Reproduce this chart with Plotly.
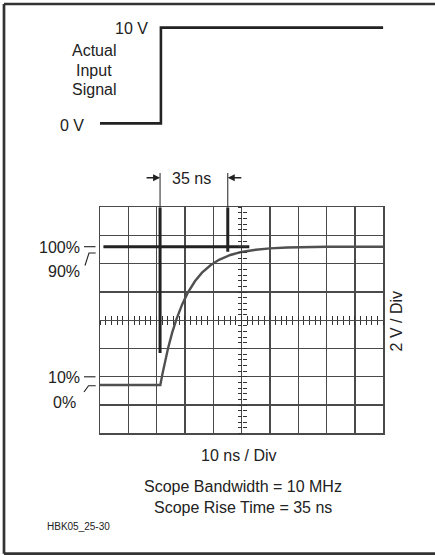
import plotly.graph_objects as go

W, H = 435, 555


def fx(p):
    return p / W


def fy(p):
    return 1 - p / H


# ---------------- data ----------------
# actual input step (ns, V)
input_time_ns = [0, 21.5, 21.5, 100]
input_volts = [0, 0, 10, 10]

# scope trace (ns, V)
scope_time_ns = [0, 21.3, 22, 23, 24, 25.5, 27, 29, 31, 33.5, 36, 39, 42, 46, 50, 55, 60, 66, 72, 80, 100]
scope_volts = [0, 0, 0.76, 1.76, 2.64, 3.8, 4.77, 5.83, 6.68, 7.5, 8.12, 8.66, 9.05, 9.4, 9.62, 9.78, 9.88, 9.94, 9.97, 10, 10]

# rise-time cursors (ns) and where their heavy part ends (V)
cursor_times_ns = [21.2, 45.1]
cursor_low_V = [2.31, 9.64]
# 100 % reference bar
ref_bar_ns = [1.2, 52.7]
ref_bar_V = [10, 10]

# scope screen
NS_PER_DIV = 10
X_DIVS = 10
V_PER_DIV = 2.0427
Y_MIN = -3.4924
Y_MAX = Y_MIN + 8 * V_PER_DIV

INK = "#222222"
GRID = "#4a4a4a"
FONT = "Liberation Sans, Arial, Helvetica, sans-serif"

fig = go.Figure()

# input step
fig.add_trace(go.Scatter(x=input_time_ns, y=input_volts, xaxis="x2", yaxis="y2",
                         mode="lines", line=dict(color=INK, width=2.6),
                         hoverinfo="skip", showlegend=False))

# scope curve
fig.add_trace(go.Scatter(x=scope_time_ns, y=scope_volts, mode="lines",
                         line=dict(color="#505050", width=2.4),
                         hoverinfo="skip", showlegend=False))

# heavy cursors
for t, lo in zip(cursor_times_ns, cursor_low_V):
    fig.add_trace(go.Scatter(x=[t, t], y=[lo, Y_MAX], mode="lines",
                             line=dict(color=INK, width=3),
                             hoverinfo="skip", showlegend=False))
fig.add_trace(go.Scatter(x=ref_bar_ns, y=ref_bar_V, mode="lines",
                         line=dict(color=INK, width=3),
                         hoverinfo="skip", showlegend=False))

# dummy traces to instantiate the centre tick axes
for xa, ya in [("x3", "y"), ("x4", "y"), ("x", "y3"), ("x", "y4")]:
    fig.add_trace(go.Scatter(x=[50], y=[5], xaxis=xa, yaxis=ya, mode="markers",
                             marker=dict(opacity=0), hoverinfo="skip", showlegend=False))

dom_x = [fx(100), fx(383.3)]
dom_y = [fy(433.3), fy(207.3)]

grid_axis = dict(showgrid=True, gridcolor=GRID, gridwidth=1.3, zeroline=False,
                 showline=True, linecolor=GRID, linewidth=1.5, mirror=True,
                 showticklabels=False, ticks="", fixedrange=True)

fig.update_layout(
    width=W, height=H,
    margin=dict(l=0, r=0, t=0, b=0),
    paper_bgcolor="white", plot_bgcolor="rgba(0,0,0,0)",
    xaxis=dict(domain=dom_x, range=[0, NS_PER_DIV * X_DIVS], dtick=NS_PER_DIV, tick0=0,
               anchor="y", **grid_axis),
    yaxis=dict(domain=dom_y, range=[Y_MIN, Y_MAX], dtick=V_PER_DIV, tick0=Y_MIN,
               anchor="x", **grid_axis),
    xaxis2=dict(domain=dom_x, range=[0, 100], anchor="y2", visible=False),
    yaxis2=dict(domain=[fy(132.9), fy(18.1)], range=[-1, 11], anchor="x2", visible=False),
)

tick_common = dict(showgrid=False, zeroline=False, showline=False, showticklabels=False,
                   ticklen=4, tickwidth=1, tickcolor="#333333", anchor="free")
fig.update_layout(
    xaxis3=dict(overlaying="x", range=[0, 100], dtick=NS_PER_DIV / 5, tick0=0,
                position=fy(320.3), ticks="outside", **tick_common),
    xaxis4=dict(overlaying="x", range=[0, 100], dtick=NS_PER_DIV / 5, tick0=0,
                position=fy(320.3), ticks="inside", **tick_common),
    yaxis3=dict(overlaying="y", range=[Y_MIN, Y_MAX], dtick=V_PER_DIV / 5, tick0=Y_MIN,
                position=fx(241.7), ticks="outside", **tick_common),
    yaxis4=dict(overlaying="y", range=[Y_MIN, Y_MAX], dtick=V_PER_DIV / 5, tick0=Y_MIN,
                position=fx(241.7), ticks="inside", **tick_common),
)

shapes = []
# outer frame (top, left, bottom)
frame = dict(type="line", xref="paper", yref="paper", line=dict(color="#333333", width=2.7))
shapes.append(dict(frame, x0=fx(4), y0=fy(4), x1=fx(436), y1=fy(4)))
shapes.append(dict(frame, x0=fx(4), y0=fy(4), x1=fx(4), y1=fy(553.7)))
shapes.append(dict(frame, x0=fx(4), y0=fy(553.7), x1=fx(436), y1=fy(553.7)))

# thin cursor extensions above the screen
for t in cursor_times_ns:
    shapes.append(dict(type="line", xref="x", yref="paper", x0=t, x1=t,
                       y0=fy(207.3), y1=fy(173), line=dict(color=INK, width=1)))

# leader lines next to percentage labels
lead = dict(type="line", xref="paper", yref="paper", line=dict(color=INK, width=1.1))
shapes.append(dict(lead, x0=fx(84), y0=fy(246.7), x1=fx(95.5), y1=fy(246.7)))
shapes.append(dict(type="path", xref="paper", yref="paper",
                   path=f"M {fx(85)},{fy(265.5)} L {fx(89)},{fy(253)} L {fx(95.7)},{fy(253)}",
                   line=dict(color=INK, width=1.1)))
shapes.append(dict(lead, x0=fx(84), y0=fy(376.8), x1=fx(95.5), y1=fy(376.8)))
shapes.append(dict(type="path", xref="paper", yref="paper",
                   path=f"M {fx(84)},{fy(392)} L {fx(88.5)},{fy(385.7)} L {fx(95.7)},{fy(385.7)}",
                   line=dict(color=INK, width=1.1)))
fig.update_layout(shapes=shapes)

ann = []


def txt(s, x, y, size=16, xa="center", ya="middle", angle=0):
    ann.append(dict(text=s, x=fx(x), y=fy(y), xref="paper", yref="paper",
                    xanchor=xa, yanchor=ya, showarrow=False, textangle=angle,
                    font=dict(family=FONT, size=size, color=INK)))


txt("10 V", 150, 28.3, xa="right")
txt("Actual", 93.7, 50.5)
txt("Input", 93.7, 70.5)
txt("Signal", 93.7, 89.5)
txt("0 V", 85.5, 125.3, xa="right")
txt("35 ns", 191.7, 178)
txt("100%", 81.5, 247.5, xa="right")
txt("90%", 81.5, 271.3, xa="right")
txt("10%", 81.5, 377.8, xa="right")
txt("0%", 77.5, 402, xa="right")
txt("2 V / Div", 396.7, 321.7, angle=-90)
txt("10 ns / Div", 238.5, 455)
txt("Scope Bandwidth = 10 MHz", 243, 486.8)
txt("Scope Rise Time = 35 ns", 242.5, 507.5)
txt("HBK05_25-30", 45, 526, size=10, xa="left")

# cursor arrows
ann.append(dict(x=cursor_times_ns[0], y=fy(177.7), xref="x", yref="paper", text="",
                showarrow=True, ax=-15, ay=0, arrowhead=2, arrowsize=1, arrowwidth=1.4,
                arrowcolor=INK, standoff=0))
ann.append(dict(x=cursor_times_ns[1], y=fy(177.7), xref="x", yref="paper", text="",
                showarrow=True, ax=15, ay=0, arrowhead=2, arrowsize=1, arrowwidth=1.4,
                arrowcolor=INK, standoff=0))
fig.update_layout(annotations=ann)

fig.write_html("out.html",
               config={"displayModeBar": False, "staticPlot": True},
               post_script="document.body.style.margin='0';document.body.style.overflow='hidden';")
